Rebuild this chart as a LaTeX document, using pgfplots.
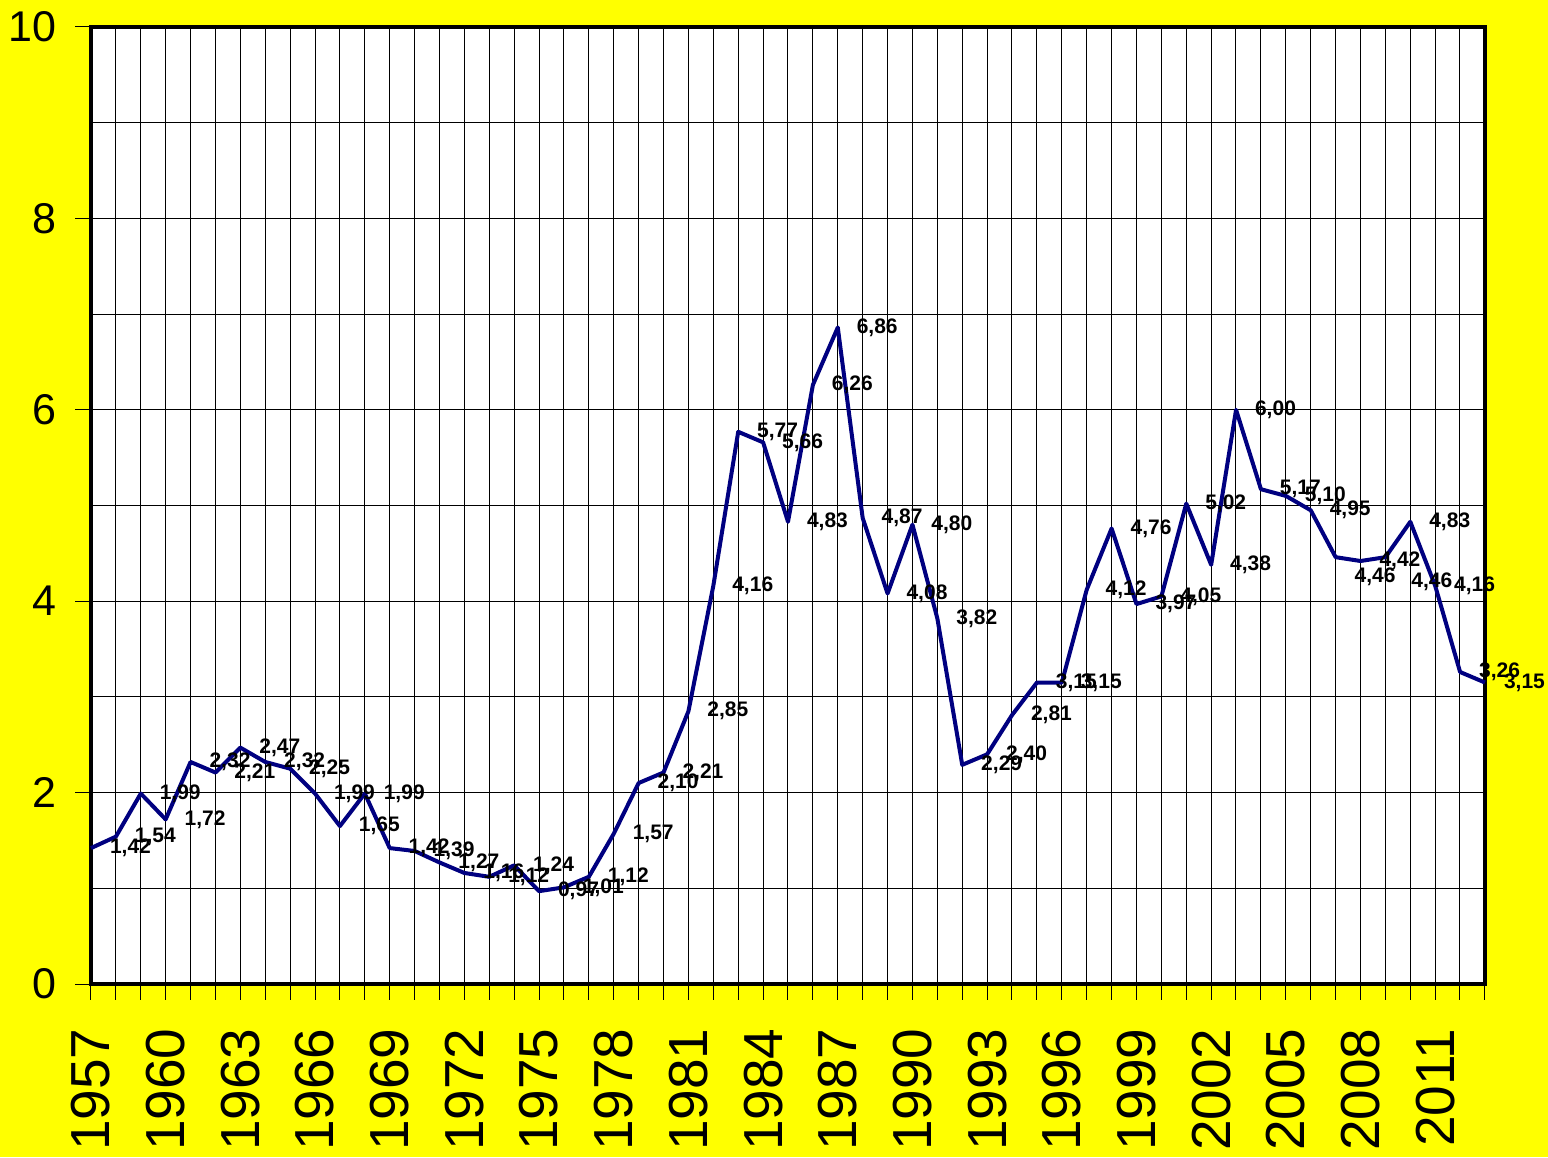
\documentclass[border=0pt]{standalone}
\usepackage{pgfplots}
\usepackage{pgfplotstable}
\pgfplotsset{compat=1.18}
\usepackage{fontspec}
\setmainfont{Liberation Sans}
\definecolor{navyline}{RGB}{0,0,128}
\definecolor{bgyellow}{RGB}{255,255,0}
\pgfplotstableread{
year val dx dy
1957 1.42 0 0
1958 1.54 0 0
1959 1.99 0 0
1960 1.72 0 0
1961 2.32 0 0
1962 2.21 0 0
1963 2.47 0 0
1964 2.32 0 0
1965 2.25 0 0
1966 1.99 0 0
1967 1.65 0 0
1968 1.99 0 0
1969 1.42 0 0
1970 1.39 0 0
1971 1.27 0 0
1972 1.16 0 0
1973 1.12 0 0
1974 1.24 0 0
1975 0.97 0 0
1976 1.01 0 0
1977 1.12 0 0
1978 1.57 0 0
1979 2.10 0 0
1980 2.21 0 0
1981 2.85 0 0
1982 4.16 0 0
1983 5.77 0 0
1984 5.66 0 0
1985 4.83 0 0
1986 6.26 0 0
1987 6.86 0 0
1988 4.87 0 0
1989 4.08 0 0
1990 4.80 0 0
1991 3.82 0 0
1992 2.29 0 0
1993 2.40 0 0
1994 2.81 0 0
1995 3.15 0 0
1996 3.15 0 0
1997 4.12 0 0
1998 4.76 0 0
1999 3.97 0 0
2000 4.05 0 0
2001 5.02 0 0
2002 4.38 0 0
2003 6.00 0 0
2004 5.17 0 0
2005 5.10 0 0
2006 4.95 0 0
2007 4.46 0 -10
2008 4.42 0 0
2009 4.46 3.5 -12.5
2010 4.83 0 0
2011 4.16 0 0
2012 3.26 0 0
2013 3.15 0 0
}\datatable
\begin{document}
\begin{tikzpicture}
\fill[bgyellow] (0,0) rectangle (774pt,578.5pt);
\begin{axis}[
  at={(45.5pt,86.5pt)}, anchor=south west,
  scale only axis, width=697pt, height=478.5pt,
  xmin=1957, xmax=2013, ymin=0, ymax=10,
  xtick={1957,1960,...,2011}, minor xtick={1957,...,2013},
  ytick={0,2,...,10}, minor ytick={1,3,...,9},
  xtick pos=left, ytick pos=left,
  grid=both,
  major grid style={black, line width=0.5pt},
  minor grid style={black, line width=0.5pt},
  tick align=outside, major tick length=8pt, minor tick length=8pt,
  tick style={black, line width=0.5pt},
  minor y tick style={draw=none},
  axis line style={line width=2pt},
  axis background/.style={fill=white},
  /pgf/number format/assume math mode=true,
  /pgf/number format/1000 sep={},
  xticklabel style={rotate=90, anchor=east, inner sep=0pt, font=\fontsize{27.5}{30}\selectfont},
  xticklabel shift=14pt,
  yticklabel style={inner sep=0pt, font=\fontsize{21.5}{24}\selectfont},
  yticklabel shift=9pt,
  clip=false,
]
\addplot[navyline, line width=2pt, line join=round, mark=none,
  visualization depends on={\thisrow{dx} \as \dx},
  visualization depends on={\thisrow{dy} \as \dy},
  nodes near coords={\pgfmathprintnumber[fixed,fixed zerofill,precision=2,use comma]{\pgfplotspointmeta}},
  every node near coord/.append style={anchor=west, xshift=8.5pt, inner sep=0pt, text=black,
    font=\bfseries\fontsize{10.5}{12}\selectfont, xshift=\dx pt, yshift=\dy pt},
] table[x=year, y=val] {\datatable};
\end{axis}
\pgfresetboundingbox
\path (0,0) rectangle (774pt,578.5pt);
\end{tikzpicture}
\end{document}
